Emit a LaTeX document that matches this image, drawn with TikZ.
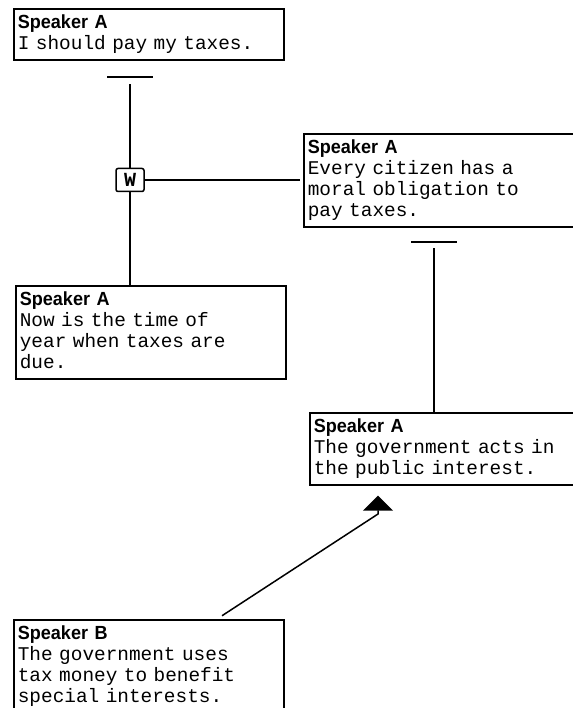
\documentclass[tikz,border=0pt]{standalone}
\usepackage{fontspec}
\setsansfont{Liberation Sans}
\setmonofont{Liberation Mono}
\newfontfamily\hdrfont[FakeStretch=0.95]{Liberation Sans}
\usetikzlibrary{arrows.meta}

\newcommand{\spk}[2]{\rule{0pt}{15pt}{\fontsize{19}{21}\hdrfont\bfseries #1}\\#2\rule[-5pt]{0pt}{5pt}}

\tikzset{
	claim/.style={draw, line width=1.7pt, anchor=north west, text width=262pt, inner xsep=4pt, inner ysep=5pt, align=left, font=\fontsize{19.4}{21}\ttfamily},
	link/.style={line width=1.5pt},
	tbar/.style={line width=2.2pt},
	wbox/.style={draw, line width=1.5pt, rounded corners=2pt, minimum width=28pt, minimum height=23pt, inner sep=0pt, font=\fontsize{20}{20}\ttfamily\bfseries},
	support/.style={line width=1.5pt, -{Triangle[width=30pt,length=15pt]}}
}

\begin{document}
\begin{tikzpicture}[x=1pt, y=-1pt]
			\useasboundingbox (0,0) rectangle (572,708);
			\node[claim] (c1) at (13,8) {\spk{Speaker A}{I should pay my taxes.}};
			\node[claim] (c2) at (303,133) {\spk{Speaker A}{Every citizen has a\\moral obligation to\\pay taxes.}};
			\node[claim] (c3) at (15,285) {\spk{Speaker A}{Now is the time of\\year when taxes are\\due.}};
			\node[claim] (c4) at (309,412) {\spk{Speaker A}{The government acts in\\the public interest.}};
			\node[claim] (c5) at (13,619) {\spk{Speaker B}{The government uses\\tax money to benefit\\special interests.}};
			\node[wbox] (w) at (130,180) {W};
			\coordinate (t1) at (130,77);
			\coordinate (t2) at (434,242);
			\coordinate (a1) at (378,514);
			\draw[tbar] ([xshift=-23pt]t1) -- ([xshift=23pt]t1);
			\draw[tbar] ([xshift=-23pt]t2) -- ([xshift=23pt]t2);
			\draw[link] (w) -- ([yshift=-7pt]t1);
			\draw[link] (w) -- (w |- c3.north);
			\draw[link, shorten >=3pt] (w) -- (w -| c2.west);
			\draw[link] (t2 |- c4.north) -- ([yshift=-6pt]t2);
			\draw[support, shorten <=6pt, shorten >=10pt] ([xshift=204pt]c5.north west) -- (a1) -- (a1 |- c4.south);
		\end{tikzpicture}
\end{document}
